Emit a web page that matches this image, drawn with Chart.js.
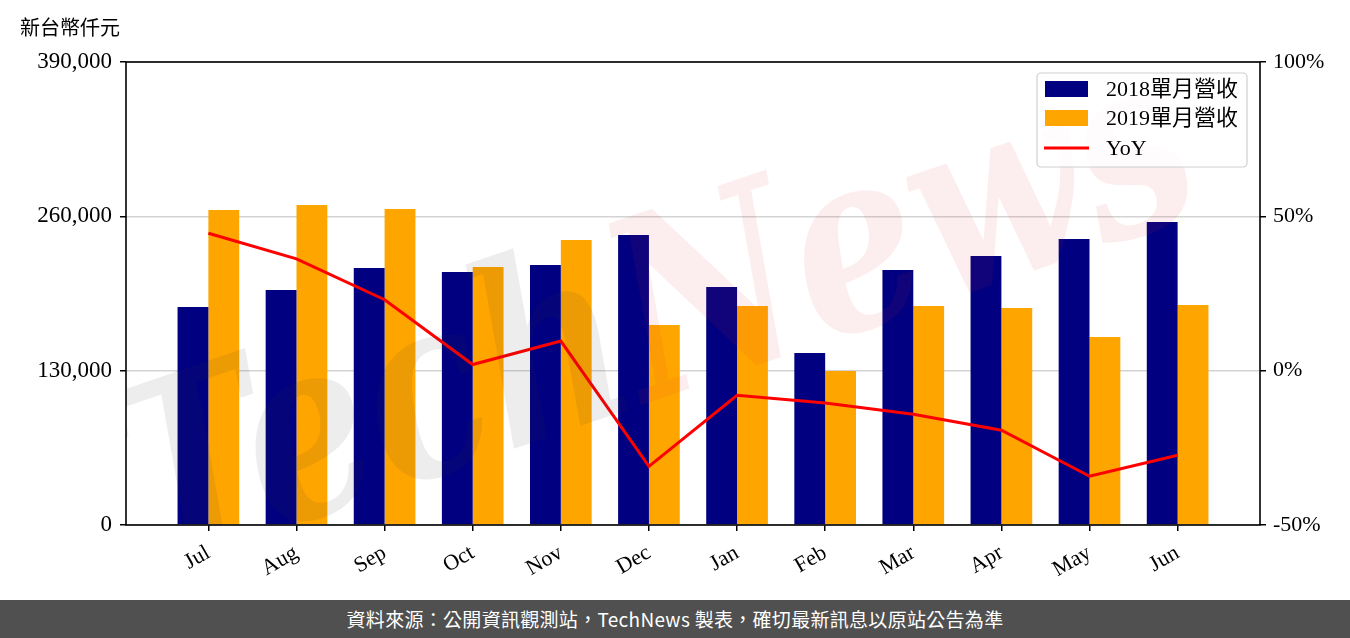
<!DOCTYPE html>
<html lang="zh-Hant"><head><meta charset="utf-8">
<script src="https://cdn.jsdelivr.net/npm/chart.js@4"></script>
<style>
html,body{margin:0;padding:0;background:#fff;width:1350px;height:638px;overflow:hidden}
#wrap{position:absolute;left:0;top:0;width:1350px;height:600px}
#footer{position:absolute;left:0;top:600px;width:1350px;height:38px;background:#505050;color:#fff;font:19px "Noto Sans CJK TC",sans-serif;text-align:center;line-height:38px;letter-spacing:0.3px}
</style></head><body>
<div id="wrap"><canvas id="c" width="1350" height="600"></canvas></div>
<div id="footer" lang="zh-Hant">資料來源：公開資訊觀測站，TechNews 製表，確切最新訊息以原站公告為準</div>
<script>
const months = ['Jul','Aug','Sep','Oct','Nov','Dec','Jan','Feb','Mar','Apr','May','Jun'];
const rev2018 = [183600, 197900, 216500, 213100, 219000, 244300, 200500, 144900, 214800, 226600, 240900, 255200];
const rev2019 = [265300, 269500, 266200, 217300, 240100, 168500, 184500, 129700, 184500, 182800, 158400, 185300];
const yoy = [44.5, 36.2, 23.0, 2.0, 9.6, -31.0, -8.0, -10.5, -14.1, -19.3, -34.2, -27.4];
const leftTicks = [0, 130000, 260000, 390000];
const rightTicks = [-50, 0, 50, 100];
const seriesNames = ['2018單月營收', '2019單月營收', 'YoY'];
const unitLabel = '新台幣仟元';

const FONT = "'Liberation Serif','Noto Sans CJK TC',serif";

const framePlugin = {
  id: 'frame',
  afterDatasetsDraw(chart) {
    const ctx = chart.ctx, a = chart.chartArea;
    // watermark
    ctx.save();
    ctx.beginPath(); ctx.rect(a.left, a.top, a.right - a.left, a.bottom - a.top); ctx.clip();
    ctx.translate(660, 330);
    ctx.rotate(-0.33);
    ctx.font = "italic bold 250px 'DejaVu Serif'";
    const w1 = ctx.measureText('Tech').width, w2 = ctx.measureText('News').width;
    const sc = 1120 / (w1 + w2);
    ctx.scale(sc, 1);
    ctx.textBaseline = 'middle';
    const x0 = -(w1 + w2) / 2;
    ctx.fillStyle = 'rgba(60,60,60,0.09)';
    ctx.fillText('Tech', x0, 0);
    ctx.fillStyle = 'rgba(220,40,40,0.08)';
    ctx.fillText('News', x0 + w1, 0);
    ctx.restore();
  },
  afterDraw(chart) {
    const ctx = chart.ctx, a = chart.chartArea;
    ctx.save();
    ctx.strokeStyle = '#000'; ctx.lineWidth = 1.6;
    ctx.strokeRect(a.left, a.top, a.right - a.left, a.bottom - a.top);
    // unit label
    ctx.fillStyle = '#000';
    ctx.font = "20px 'Noto Sans CJK TC'";
    ctx.textBaseline = 'alphabetic'; ctx.textAlign = 'left';
    ctx.fillText(unitLabel, 20, 35);
    // legend
    const lx = 1037, ly = 73, lw = 210, lh = 94;
    ctx.fillStyle = 'rgba(255,255,255,0.85)';
    ctx.strokeStyle = '#cfcfcf'; ctx.lineWidth = 1.2;
    ctx.beginPath();
    ctx.roundRect(lx, ly, lw, lh, 4);
    ctx.fill(); ctx.stroke();
    const ds = chart.data.datasets;
    const rows = [89, 118, 148];
    ctx.font = "22px " + FONT;
    ctx.textBaseline = 'middle';
    ds.forEach((d, i) => {
      const y = rows[i];
      if (d.type === 'line') {
        ctx.strokeStyle = d.borderColor; ctx.lineWidth = 3;
        ctx.beginPath(); ctx.moveTo(1044, y); ctx.lineTo(1089, y); ctx.stroke();
      } else {
        ctx.fillStyle = d.backgroundColor;
        ctx.fillRect(1045, y - 8, 43, 16);
      }
      ctx.fillStyle = '#000';
      ctx.fillText(d.label, 1106, y + 1);
    });
    ctx.restore();
  }
};

new Chart(document.getElementById('c'), {
  data: {
    datasets: [
      { type: 'bar', label: seriesNames[0], data: months.map((m, i) => ({ x: i, y: rev2018[i] })), backgroundColor: '#000080', yAxisID: 'y', categoryPercentage: 0.7, barPercentage: 1.0, order: 2 },
      { type: 'bar', label: seriesNames[1], data: months.map((m, i) => ({ x: i, y: rev2019[i] })), backgroundColor: '#FFA500', yAxisID: 'y', categoryPercentage: 0.7, barPercentage: 1.0, order: 2 },
      { type: 'line', label: seriesNames[2], data: months.map((m, i) => ({ x: i, y: yoy[i] })), borderColor: '#FF0000', backgroundColor: '#FF0000', borderWidth: 3, pointRadius: 0, tension: 0, yAxisID: 'y2', order: 1 }
    ]
  },
  options: {
    responsive: false,
    animation: false,
    devicePixelRatio: 1,
    layout: { padding: { top: 62, left: 0, right: 0, bottom: 0 } },
    plugins: { legend: { display: false }, tooltip: { enabled: false } },
    scales: {
      x: {
        type: 'linear', position: 'bottom', min: -0.935, max: 11.935, offset: false,
        afterBuildTicks: s => { s.ticks = months.map((m, i) => ({ value: i })); },
        afterFit: s => { s.height = 75; },
        ticks: { callback: v => months[v], color: '#000', font: { family: FONT, size: 22 }, minRotation: 30, maxRotation: 30, autoSkip: false, padding: 9 },
        grid: { offset: false, drawOnChartArea: false, tickLength: 6, tickColor: '#000', lineWidth: 1.5 },
        border: { display: false }
      },
      y: {
        type: 'linear', position: 'left', min: 0, max: 390000,
        afterBuildTicks: s => { s.ticks = leftTicks.map(v => ({ value: v })); },
        afterFit: s => { s.width = 126; },
        ticks: { callback: v => v.toLocaleString('en-US'), color: '#000', font: { family: FONT, size: 23 }, padding: 8 },
        grid: { color: '#d3d3d3', lineWidth: 1.5, tickLength: 6, tickColor: '#000' },
        border: { display: false }
      },
      y2: {
        type: 'linear', position: 'right', min: -50, max: 100,
        afterBuildTicks: s => { s.ticks = rightTicks.map(v => ({ value: v })); },
        afterFit: s => { s.width = 90; },
        ticks: { callback: v => v + '%', color: '#000', font: { family: FONT, size: 22 }, padding: 7 },
        grid: { drawOnChartArea: false, tickLength: 6, tickColor: '#000', lineWidth: 1.5 },
        border: { display: false }
      }
    }
  },
  plugins: [framePlugin]
});
</script>
</body></html>
